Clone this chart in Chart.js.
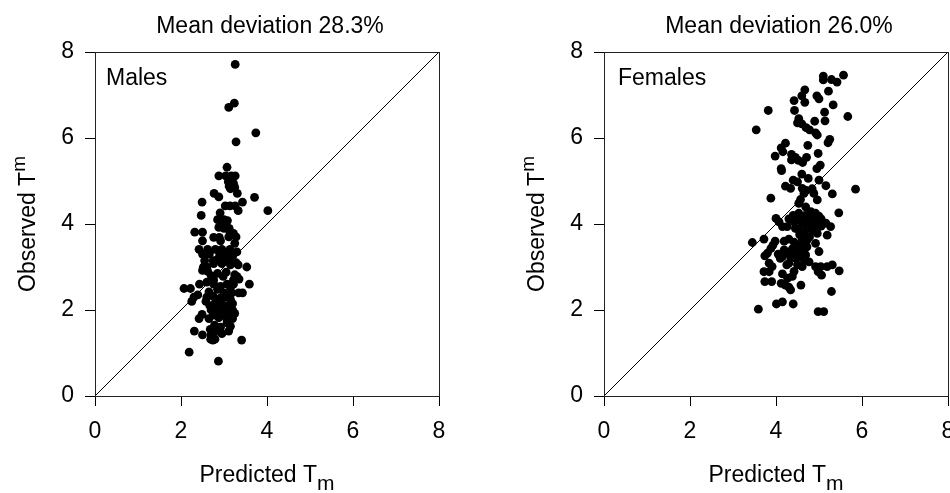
<!DOCTYPE html>
<html>
<head>
<meta charset="utf-8">
<script src="https://cdn.jsdelivr.net/npm/chart.js@4.4.0/dist/chart.umd.min.js"></script>
<style>
  html, body { margin: 0; padding: 0; background: #fff; overflow: hidden; width: 950px; height: 493px; }
  .panel { position: absolute; top: 0; }
</style>
</head>
<body>
<div class="panel" style="left:0"><canvas id="males" width="475" height="493"></canvas></div>
<div class="panel" style="left:475px"><canvas id="females" width="520" height="493"></canvas></div>
<script>
// axis ticks, shared by both panels
const axisTicks = [0, 2, 4, 6, 8];
const lineOfEquality = [0, 8];

const panelTitles = ['Mean deviation 28.3%', 'Mean deviation 26.0%'];
const groupNames = ['Males', 'Females'];

// males: predicted vs observed T_m
const malesPredicted = [
  3.26,3.24,3.11,3.74,3.28,3.07,2.88,3.04,3.17,3.26,
  3.10,3.22,3.12,3.20,3.15,3.25,3.31,2.77,2.88,3.71,
  2.49,3.43,3.03,3.14,3.26,3.33,4.02,2.47,2.91,2.85,
  3.00,3.08,2.95,3.05,2.88,3.00,3.12,2.32,2.50,3.14,
  3.22,2.76,2.89,3.11,3.28,2.50,2.92,3.25,2.42,2.62,
  2.80,2.95,3.14,3.30,2.50,2.66,2.90,3.05,3.20,2.55,
  2.75,2.85,3.00,3.15,3.28,2.52,2.60,2.76,2.95,3.15,
  3.33,3.53,2.50,2.62,2.85,3.05,3.25,2.70,2.98,3.30,
  2.76,3.22,3.35,2.60,2.43,2.76,3.07,3.22,3.59,2.92,
  3.15,2.07,2.22,2.85,3.18,3.34,3.43,2.65,3.00,2.30,
  2.39,2.60,2.75,2.92,3.05,3.15,2.58,2.80,2.95,3.20,
  2.67,2.82,3.10,2.25,2.70,2.90,3.05,3.20,2.80,2.49,
  2.75,2.95,3.13,3.25,2.42,2.65,2.88,3.07,3.20,2.78,
  3.07,2.92,3.15,2.31,2.86,3.11,2.68,2.50,2.70,2.95,
  2.69,2.79,2.74,3.41,2.19,2.87
];
const malesObserved = [
  7.71,6.81,6.71,6.12,5.91,5.32,5.12,5.12,5.12,5.12,
  4.98,4.95,4.88,4.90,4.82,4.85,4.71,4.71,4.63,4.62,
  4.51,4.51,4.42,4.42,4.42,4.31,4.31,4.20,4.26,4.10,
  4.10,4.08,4.00,3.98,3.92,3.90,3.90,3.81,3.81,3.81,
  3.78,3.69,3.69,3.70,3.70,3.61,3.61,3.55,3.41,3.41,
  3.41,3.41,3.41,3.35,3.30,3.30,3.30,3.28,3.25,3.15,
  3.15,3.18,3.15,3.12,3.10,3.00,3.00,3.08,3.08,3.05,
  3.05,3.00,2.92,2.90,2.85,2.88,2.82,2.80,2.78,2.78,
  2.70,2.70,2.72,2.65,2.60,2.60,2.60,2.60,2.60,2.55,
  2.52,2.50,2.50,2.48,2.40,2.40,2.40,2.42,2.40,2.30,
  2.35,2.30,2.32,2.28,2.30,2.25,2.20,2.18,2.15,2.15,
  2.10,2.10,2.10,2.20,2.00,2.02,2.00,2.00,1.95,1.90,
  1.88,1.90,1.90,1.92,1.80,1.80,1.82,1.78,1.80,1.65,
  1.70,1.60,1.62,1.51,1.51,1.51,1.55,1.42,1.42,1.45,
  1.32,1.32,1.30,1.30,1.02,0.81
];

// females: predicted vs observed T_m
const femalesPredicted = [
  5.57,5.10,5.10,5.29,5.42,4.67,4.60,5.22,4.95,5.00,
  4.42,4.67,3.82,4.43,5.33,5.13,5.67,4.53,4.50,4.60,
  4.90,5.14,4.70,4.78,3.54,4.92,4.96,5.25,5.21,4.74,
  4.22,3.98,4.12,4.16,4.36,4.45,4.52,4.62,4.71,4.98,
  4.36,4.12,4.13,4.95,5.03,4.60,4.75,4.40,4.50,5.00,
  4.22,4.34,4.61,4.70,5.16,4.84,4.88,5.85,5.31,4.65,
  4.57,3.88,4.96,4.53,4.69,4.81,5.46,4.53,4.00,4.07,
  4.30,4.42,4.50,4.92,5.00,4.85,4.61,4.72,4.84,4.96,
  4.15,4.26,4.45,4.53,5.16,5.27,4.84,4.96,5.19,4.61,
  4.72,3.72,3.45,3.98,4.19,4.42,4.92,3.93,3.88,4.53,
  4.61,4.72,4.19,4.30,5.00,3.74,3.80,4.15,4.34,4.46,
  4.57,4.69,3.84,3.91,4.30,4.50,4.61,4.77,5.31,5.19,
  5.04,4.92,5.47,3.84,3.72,4.98,5.06,4.15,4.27,4.38,
  3.74,3.90,4.12,4.22,4.30,4.58,4.34,5.29,3.59,4.01,
  4.15,4.40,4.98,5.11,4.60,4.68,4.78,4.88,5.05,4.55,
  4.66,4.78,4.90,5.05,4.40,4.48,4.58,4.66,4.38,4.25,
  4.42,4.10,4.05,4.30
];
const femalesObserved = [
  7.46,7.44,7.35,7.36,7.30,7.12,6.98,7.09,6.98,6.91,
  6.87,6.83,6.64,6.64,6.77,6.60,6.50,6.45,6.35,6.33,
  6.39,6.40,6.24,6.19,6.19,6.12,6.07,5.97,5.89,5.83,
  5.88,5.58,5.77,5.68,5.62,5.55,5.48,5.43,5.55,5.64,
  5.49,5.29,5.24,5.29,5.37,5.16,5.06,5.02,4.98,5.02,
  4.88,4.83,4.83,4.78,4.89,4.82,4.71,4.81,4.70,4.71,
  4.57,4.60,4.56,4.48,4.40,4.29,4.26,4.25,4.13,4.05,
  4.12,4.05,4.09,4.25,4.18,4.15,4.00,3.93,3.93,4.02,
  3.94,3.94,3.90,3.86,4.02,3.94,3.86,3.78,3.74,3.66,
  3.62,3.65,3.57,3.60,3.60,3.58,3.55,3.51,3.43,3.52,
  3.47,3.47,3.40,3.32,3.36,3.26,3.32,3.24,3.24,3.20,
  3.24,3.28,3.09,3.01,3.09,3.05,3.01,3.12,3.05,3.01,
  3.01,3.01,2.91,2.89,2.89,2.89,2.81,2.84,2.74,2.78,
  2.66,2.66,2.62,2.58,2.53,2.58,2.47,2.43,2.02,2.14,
  2.19,2.14,1.96,1.96,4.10,4.20,4.05,4.10,3.95,3.75,
  3.80,3.70,3.95,4.12,4.20,3.35,3.35,3.15,3.42,3.05,
  2.90,3.20,3.30,3.65
];

const FONT = 'Liberation Sans';
Chart.defaults.font.family = FONT;
Chart.defaults.color = '#000';

function font(size) { return size + 'px "' + FONT + '"'; }

// titles, group label, box and the axis titles with subscript m
const panelText = {
  id: 'panelText',
  afterDraw(chart, args, opts) {
    const ctx = chart.ctx;
    const a = chart.chartArea;
    const cx = (a.left + a.right) / 2;
    const cy = (a.top + a.bottom) / 2;
    ctx.save();
    ctx.strokeStyle = '#222';
    ctx.lineWidth = 1;
    ctx.strokeRect(a.left + 0.5, a.top + 0.5, a.width, a.height);

    ctx.fillStyle = '#000';
    ctx.textBaseline = 'alphabetic';
    ctx.font = font(23);
    ctx.textAlign = 'center';
    ctx.fillText(opts.title, cx + 3, 33);
    ctx.textAlign = 'left';
    ctx.fillText(opts.group, a.left + opts.groupX, a.top + 33);

    // x axis title
    ctx.font = font(23);
    let w1 = ctx.measureText('Predicted T').width;
    ctx.font = font(21);
    let w2 = ctx.measureText('m').width;
    let x0 = cx - (w1 + w2) / 2;
    ctx.font = font(23);
    ctx.fillText('Predicted T', x0, 482);
    ctx.font = font(21);
    ctx.fillText('m', x0 + w1, 490);

    // y axis title
    ctx.translate(a.left - 60, cy);
    ctx.rotate(-Math.PI / 2);
    ctx.font = font(23);
    w1 = ctx.measureText('Observed T').width;
    ctx.font = font(19);
    w2 = ctx.measureText('m').width;
    x0 = -(w1 + w2) / 2;
    ctx.font = font(23);
    ctx.fillText('Observed T', x0, 0);
    ctx.font = font(19);
    ctx.fillText('m', x0 + w1, -10);
    ctx.restore();
  }
};

function makeAxis(fitSize, horizontal) {
  return {
    type: 'linear',
    min: axisTicks[0],
    max: axisTicks[axisTicks.length - 1],
    afterBuildTicks: s => { s.ticks = axisTicks.map(v => ({ value: v })); },
    ticks: { font: { size: 23 }, color: '#000', padding: horizontal ? 12 : 11 },
    grid: { drawOnChartArea: false, drawTicks: true, tickLength: 10, color: '#000', lineWidth: 1 },
    border: { display: true, color: '#000', width: 1 },
    afterFit: s => { if (horizontal) s.height = fitSize; else s.width = fitSize; }
  };
}

function makePanel(id, px, py, idx, yAxisWidth, padRight, groupX) {
  const points = px.map((v, i) => ({ x: v, y: py[i] }));
  return new Chart(document.getElementById(id), {
    type: 'scatter',
    data: {
      datasets: [
        {
          type: 'line',
          data: lineOfEquality.map(v => ({ x: v, y: v })),
          borderColor: '#000',
          borderWidth: 1,
          pointRadius: 0,
          order: 1
        },
        {
          data: points,
          backgroundColor: '#000',
          borderWidth: 0,
          pointRadius: 4.4,
          pointHoverRadius: 4.4,
          order: 0
        }
      ]
    },
    options: {
      responsive: false,
      animation: false,
      devicePixelRatio: 1,
      events: [],
      layout: { padding: { left: 0, top: 52, right: padRight, bottom: 0 } },
      scales: {
        x: makeAxis(97, true),
        y: makeAxis(yAxisWidth, false)
      },
      plugins: {
        legend: { display: false },
        tooltip: { enabled: false },
        title: { display: false },
        panelText: { title: panelTitles[idx], group: groupNames[idx], groupX: groupX }
      }
    },
    plugins: [panelText]
  });
}

makePanel('males', malesPredicted, malesObserved, 0, 95, 36, 11);
makePanel('females', femalesPredicted, femalesObserved, 1, 129, 47, 14);
</script>
</body>
</html>
